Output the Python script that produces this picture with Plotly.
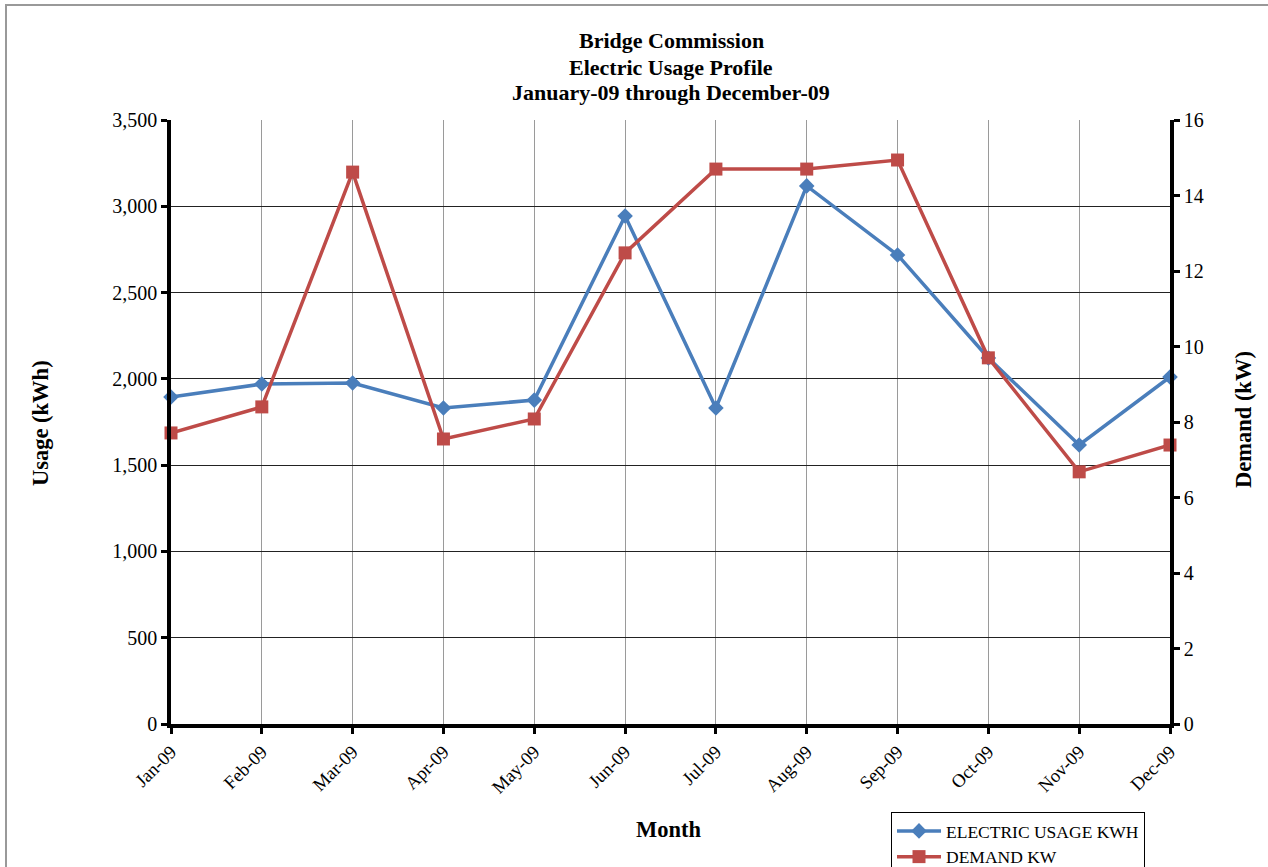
import plotly.graph_objects as go

# Monthly data, 2009
months = ["Jan-09", "Feb-09", "Mar-09", "Apr-09", "May-09", "Jun-09",
          "Jul-09", "Aug-09", "Sep-09", "Oct-09", "Nov-09", "Dec-09"]
usage_kwh = [1895, 1970, 1976, 1831, 1877, 2944, 1831, 3118, 2718, 2121, 1617, 2011]
demand_kw = [7.71, 8.40, 14.62, 7.55, 8.08, 12.48, 14.70, 14.70, 14.94, 9.70, 6.68, 7.39]

usage_ticks = [0, 500, 1000, 1500, 2000, 2500, 3000, 3500]
demand_ticks = [0, 2, 4, 6, 8, 10, 12, 14, 16]

title_lines = ["Bridge Commission", "Electric Usage Profile",
               "January-09 through December-09"]

W, H = 1268, 867
L, R, T, B = 171, 98, 120, 143
PW, PH = W - L - R, H - T - B

def px_x(p):
    return (p - L) / PW

def px_y(p):
    return (H - B - p) / PH

FONT = "Liberation Serif, Times New Roman, serif"
BLUE = "#4A7EBB"
RED = "#BE4B48"

idx = list(range(len(months)))

fig = go.Figure()
fig.add_trace(go.Scatter(
    x=idx, y=usage_kwh, name="ELECTRIC USAGE KWH", mode="lines+markers",
    line=dict(color=BLUE, width=3.5),
    marker=dict(symbol="diamond", size=12, color=BLUE),
    cliponaxis=False, yaxis="y",
))
fig.add_trace(go.Scatter(
    x=idx, y=demand_kw, name="DEMAND KW", mode="lines+markers",
    line=dict(color=RED, width=3.5),
    marker=dict(symbol="square", size=13, color=RED),
    cliponaxis=False, yaxis="y2",
))

axis_common = dict(
    showline=True, linecolor="black", linewidth=3.5,
    ticks="outside", ticklen=6, tickwidth=3, tickcolor="black",
    zeroline=False, fixedrange=True, automargin=False,
)

fig.update_layout(
    width=W, height=H,
    margin=dict(l=L, r=R, t=T, b=B, autoexpand=False),
    paper_bgcolor="white", plot_bgcolor="white",
    font=dict(family=FONT, size=20, color="black"),
    xaxis=dict(
        range=[0, 11], tickvals=idx, ticktext=months, tickangle=-45,
        showgrid=True, gridcolor="#9a9a9a", gridwidth=1.2,
        tickfont=dict(size=18.5), **axis_common,
    ),
    yaxis=dict(
        range=[0, 3500], tickvals=usage_ticks, tickformat=",",
        showgrid=True, gridcolor="#222222", gridwidth=1,
        **axis_common,
    ),
    yaxis2=dict(
        range=[0, 16], tickvals=demand_ticks, overlaying="y", side="right",
        showgrid=False, **axis_common,
    ),
    legend=dict(
        xref="container", yref="container",
        x=891 / W, y=1 - 812 / H, xanchor="left", yanchor="top",
        bordercolor="black", borderwidth=1, bgcolor="white",
        font=dict(family=FONT, size=17.5, color="black"),
        tracegroupgap=0, itemwidth=44,
    ),
    showlegend=True,
)

# three-line bold chart title
for i, line in enumerate(title_lines):
    fig.add_annotation(text="<b>%s</b>" % line, xref="paper", yref="paper",
                       x=px_x(671), y=px_y(41 + 26 * i), showarrow=False,
                       xanchor="center", yanchor="middle",
                       font=dict(family=FONT, size=22, color="black"))

fig.add_annotation(text="<b>Usage (kWh)</b>", xref="paper", yref="paper",
                   x=px_x(40), y=px_y(423), textangle=-90, showarrow=False,
                   xanchor="center", yanchor="middle",
                   font=dict(family=FONT, size=22.5, color="black"))
fig.add_annotation(text="<b>Demand (kW)</b>", xref="paper", yref="paper",
                   x=px_x(1243), y=px_y(420), textangle=-90, showarrow=False,
                   xanchor="center", yanchor="middle",
                   font=dict(family=FONT, size=22.5, color="black"))
fig.add_annotation(text="<b>Month</b>", xref="paper", yref="paper",
                   x=px_x(668), y=px_y(829), showarrow=False,
                   xanchor="center", yanchor="middle",
                   font=dict(family=FONT, size=22.5, color="black"))

# outer chart-area frame
fig.add_shape(type="rect", xref="paper", yref="paper",
              x0=px_x(6), x1=px_x(1290), y0=px_y(5), y1=px_y(900),
              line=dict(color="#999999", width=2), layer="below")

fig.write_html("out.html")
